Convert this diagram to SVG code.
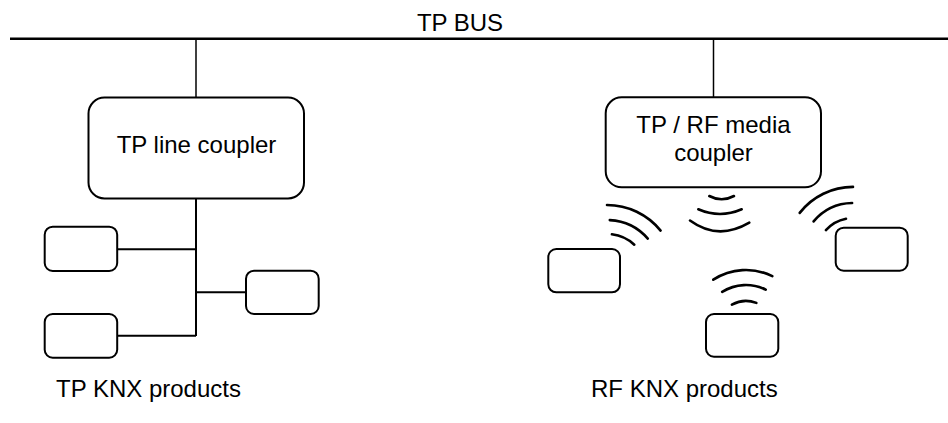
<svg xmlns="http://www.w3.org/2000/svg" width="948" height="423" viewBox="0 0 948 423">
<style>
.t{font-family:"Liberation Sans",Arial,Helvetica,sans-serif;font-size:24px;fill:#000}
.box{fill:#fff;stroke:#000;stroke-width:2}
.ln{fill:none;stroke:#000;stroke-width:2}
.thin{fill:none;stroke:#000;stroke-width:1.5}
.wave{fill:none;stroke:#000;stroke-width:2.6;stroke-linecap:round}
</style>
<rect width="948" height="423" fill="#fff"/>
<g id="connectors">
<line x1="10" y1="38.7" x2="948" y2="38.7" stroke="#000" stroke-width="2.6"/>
<line class="thin" x1="196" y1="39" x2="196" y2="97"/>
<line class="thin" x1="713.5" y1="39" x2="713.5" y2="97"/>
<line class="ln" x1="196" y1="198" x2="196" y2="336"/>
<line class="ln" x1="117" y1="249.3" x2="196" y2="249.3"/>
<line class="ln" x1="117" y1="335.7" x2="196" y2="335.7"/>
<line class="ln" x1="196" y1="292.3" x2="246" y2="292.3"/>
</g>
<g id="tp-bus-label"><text class="t" x="460" y="30.5" text-anchor="middle">TP BUS</text></g>
<g id="tp-line-coupler">
<rect class="box" x="88.5" y="97.5" width="215.5" height="101" rx="16"/>
<text class="t" x="196.5" y="152.5" text-anchor="middle">TP line coupler</text>
</g>
<g id="tp-device-1"><rect class="box" x="44.7" y="226.7" width="72.5" height="44.3" rx="8"/></g>
<g id="tp-device-2"><rect class="box" x="44.7" y="314" width="72.5" height="43.7" rx="8"/></g>
<g id="tp-device-3"><rect class="box" x="246" y="270.7" width="72.7" height="43.3" rx="8"/></g>
<g id="rf-media-coupler">
<rect class="box" x="605.7" y="97.3" width="215.3" height="90" rx="16"/>
<text class="t" x="713.5" y="133" text-anchor="middle">TP / RF media</text>
<text class="t" x="713.5" y="161" text-anchor="middle">coupler</text>
</g>
<g id="rf-coupler-waves">
<path class="wave" d="M709.3,196 Q721.6,202.6 734,196"/>
<path class="wave" d="M698.3,209.3 Q720,218.7 741.7,209.3"/>
<path class="wave" d="M690,220.5 Q718,241 749.3,222.7"/>
</g>
<g id="rf-device-1">
<rect class="box" x="548.3" y="249" width="71.7" height="43.3" rx="8"/>
<path class="wave" d="M607,205 A69,69 0 0 1 660.6,230.6"/>
<path class="wave" d="M609.8,220.1 A54,54 0 0 1 647.8,238.6"/>
<path class="wave" d="M611.9,234.3 A40,40 0 0 1 634.3,244.7"/>
</g>
<g id="rf-device-2">
<rect class="box" x="706" y="314" width="72.3" height="42.7" rx="8"/>
<path class="wave" d="M713.3,279.7 A60,60 0 0 1 772.3,276.1"/>
<path class="wave" d="M722.2,291.8 A45,45 0 0 1 765.7,289.6"/>
<path class="wave" d="M731.9,304.6 A29,29 0 0 1 756.4,302.9"/>
</g>
<g id="rf-device-3">
<rect class="box" x="835.7" y="227.7" width="72" height="43" rx="8"/>
<path class="wave" d="M799.7,212.9 A67.6,67.6 0 0 1 853,186.9"/>
<path class="wave" d="M813.6,221.4 A51.5,51.5 0 0 1 852.1,203"/>
<path class="wave" d="M825.9,230.1 A36.5,36.5 0 0 1 846,218.7"/>
</g>
<g id="labels">
<text class="t" x="56" y="397">TP KNX products</text>
<text class="t" x="591" y="397">RF KNX products</text>
</g>
</svg>
